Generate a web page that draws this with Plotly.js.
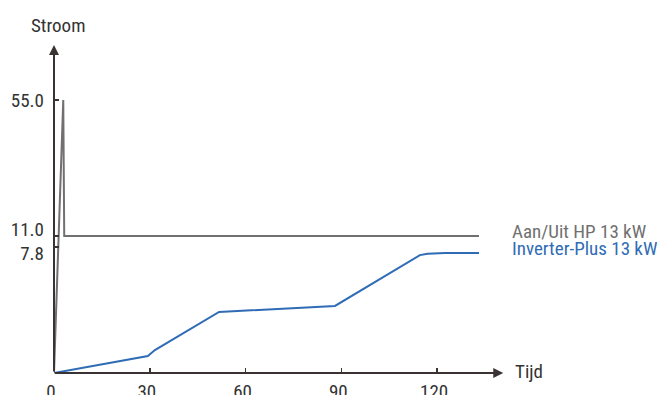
<!DOCTYPE html>
<html>
<head>
<meta charset="utf-8">
<script src="https://cdn.plot.ly/plotly-3.0.1.min.js"></script>
<style>html,body{margin:0;padding:0;background:#fff;}#chart{width:657px;height:395px;}</style>
</head>
<body>
<div id="chart"></div>
<script>
// ---- data (real units) ----
const seriesNames = ["Aan/Uit HP 13 kW", "Inverter-Plus 13 kW"];
const onOffX = [0, 2.9, 3.2, 133.1];
const onOffY = [0, 55, 11, 11];
const inverterX = [0, 29.4, 31.6, 51.7, 88.0, 113.0, 114.6, 117.0, 122.5, 133.1];
const inverterY = [0, 1.05, 1.42, 3.78, 4.15, 7.12, 7.30, 7.38, 7.43, 7.43];
const yTickValues = [55, 11, 7.8];
const yTickLabels = ["55.0", "11.0", "7.8"];
const xTickValues = [0, 30, 60, 90, 120];
const xTickLabels = ["0", "30", "60", "90", "120"];

// schematic (broken) vertical scale: piecewise-linear display transform
const scaleReal = [0, 7.8, 11, 55];
const scaleDisp = [0, 126, 137, 273];
function disp(v) {
  for (let i = 1; i < scaleReal.length; i++) {
    if (v <= scaleReal[i] || i === scaleReal.length - 1) {
      const t = (v - scaleReal[i-1]) / (scaleReal[i] - scaleReal[i-1]);
      return scaleDisp[i-1] + t * (scaleDisp[i] - scaleDisp[i-1]);
    }
  }
}
// tick labels nudged apart so they do not overlap
const labelNudge = [0, 7, -6];

const FONT = "'Roboto Condensed', 'Liberation Sans Narrow', 'DejaVu Sans Condensed', sans-serif";
const FS = 19;
const AX = "#3b3333";
const GREY = "#707070";
const BLUE = "#2f6cb5";
const TXT = "#333333";

const traces = [
  {x: onOffX, y: onOffY.map(disp), mode: "lines", line: {color: GREY, width: 2}, name: seriesNames[0], hoverinfo: "skip"},
  {x: inverterX, y: inverterY.map(disp), mode: "lines", line: {color: BLUE, width: 2}, name: seriesNames[1], hoverinfo: "skip"},
  // carrier for the label axis (draws nothing)
  {x: [null], y: [null], yaxis: "y2", mode: "lines", showlegend: false, hoverinfo: "skip"}
];

const YMAX = 328;
const layout = {
  width: 657, height: 395,
  margin: {l: 54, r: 156, t: 45, b: 22},
  paper_bgcolor: "#fff", plot_bgcolor: "#fff",
  showlegend: false,
  font: {family: FONT, size: FS, color: TXT},
  xaxis: {
    range: [0, 140], showgrid: false, zeroline: false, showline: false,
    tickmode: "array", tickvals: xTickValues, ticktext: xTickLabels,
    ticks: "inside", ticklen: 5, tickwidth: 1.5, tickcolor: AX, ticklabelstandoff: 5, ticklabelshift: -3,
    tickfont: {family: FONT, size: FS, color: TXT}
  },
  yaxis: {
    range: [0, YMAX], showgrid: false, zeroline: false, showline: false,
    tickmode: "array", tickvals: yTickValues.map(disp), ticktext: yTickLabels.map(() => ""),
    ticks: "inside", ticklen: 5, tickwidth: 1.5, tickcolor: AX, showticklabels: false
  },
  yaxis2: {
    overlaying: "y", side: "left", range: [0, YMAX], showgrid: false, zeroline: false, showline: false,
    tickmode: "array", tickvals: yTickValues.map((v, i) => disp(v) + labelNudge[i]), ticktext: yTickLabels,
    ticks: "", ticklabelstandoff: 9,
    tickfont: {family: FONT, size: FS, color: TXT}
  },
  annotations: [
    // x axis with arrow
    {xref: "paper", yref: "paper", x: 1.005, y: 0, ax: -450, ay: 0,
     showarrow: true, arrowhead: 2, arrowsize: 1, arrowwidth: 2, arrowcolor: AX, text: ""},
    // y axis with arrow
    {xref: "paper", yref: "paper", x: 0, y: 1, ax: 0, ay: 328, showarrow: true, arrowhead: 2,
     arrowsize: 1, arrowwidth: 2, arrowcolor: AX, text: ""},
    {xref: "paper", yref: "paper", x: 0, y: 1, xshift: 4, yshift: 6, yanchor: "bottom", xanchor: "center", showarrow: false,
     text: "Stroom", font: {family: FONT, size: FS, color: TXT}},
    {xref: "paper", yref: "paper", x: 1, y: 0, xshift: 12, yshift: 2, xanchor: "left", yanchor: "middle", showarrow: false,
     text: "Tijd", font: {family: FONT, size: FS, color: TXT}},
    {x: onOffX[onOffX.length-1], y: disp(onOffY[onOffY.length-1]), xanchor: "left", yanchor: "middle", xshift: 31, yshift: 5,
     showarrow: false, text: seriesNames[0], font: {family: FONT, size: FS, color: GREY}},
    {x: inverterX[inverterX.length-1], y: disp(inverterY[inverterY.length-1]), xanchor: "left", yanchor: "middle", xshift: 31, yshift: 4,
     showarrow: false, text: seriesNames[1], font: {family: FONT, size: FS, color: BLUE}}
  ]
};

Plotly.newPlot("chart", traces, layout, {displayModeBar: false, staticPlot: true});
</script>
</body>
</html>
